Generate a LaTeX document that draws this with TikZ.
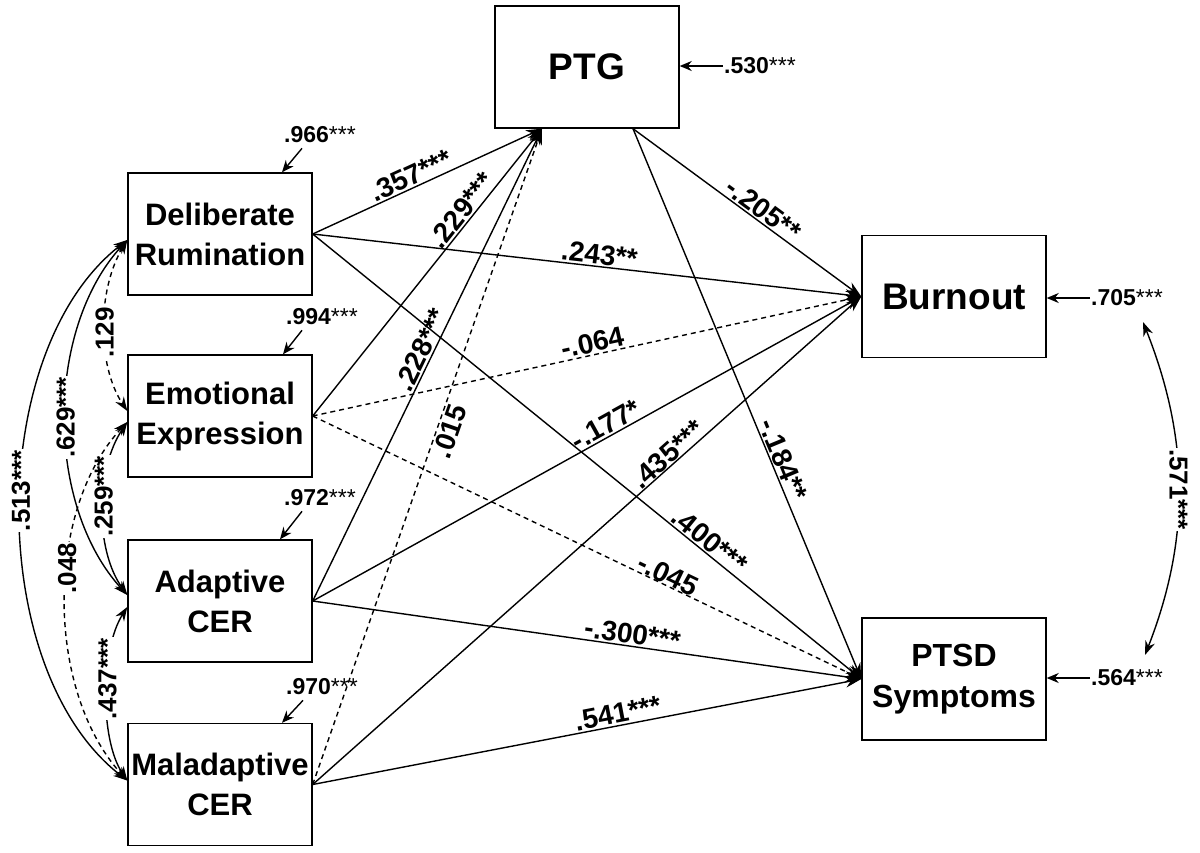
\documentclass[tikz,border=0pt]{standalone}
\usepackage{fontspec}
\setmainfont{Liberation Sans}
\usetikzlibrary{arrows.meta}
\newcommand\nst[1]{{\mdseries #1}}
\begin{document}
\begin{tikzpicture}[x=1pt,y=-1pt,
  box/.style={draw, line width=1.4pt, minimum width=184pt, minimum height=122pt, inner sep=0pt, align=center, font=\fontsize{31}{40}\selectfont\bfseries},
  bigbox/.style={box, font=\fontsize{37}{44}\selectfont\bfseries},
  pth/.style={line width=1.4pt, -{Stealth[length=16pt,width=11pt]}},
  dpth/.style={pth, dash pattern=on 5pt off 4pt},
  lab/.style={sloped, above, inner sep=1.5pt, font=\fontsize{28}{28}\selectfont\bfseries},
  labb/.style={sloped, below, inner sep=2pt, font=\fontsize{28}{28}\selectfont\bfseries},
  res/.style={inner sep=1pt, font=\fontsize{23}{23}\selectfont\bfseries},
  rarr/.style={line width=1.4pt, -{Stealth[length=12pt,width=10pt]}},
  cov/.style={line width=1.4pt, {Stealth[length=14pt,width=10pt]}-{Stealth[length=14pt,width=10pt]}},
  dcov/.style={cov, dash pattern=on 5pt off 4pt},
  covlab/.style={fill=white, rotate=90, inner sep=1pt, font=\fontsize{26}{26}\selectfont\bfseries}
]
\fill[white] (0,0) rectangle (1200,852);
\useasboundingbox (0,0) rectangle (1200,852);

% boxes
\node[box] (DR) at (220,234) {Deliberate\\Rumination};
\node[box] (EE) at (220,416) {Emotional\\Expression};
\node[box] (AC) at (220,601) {Adaptive\\CER};
\node[box] (MC) at (220,784.5) {Maladaptive\\CER};
\node[bigbox] (PTG) at (587,67) {PTG};
\node[bigbox] (BO) at (954,296.5) {Burnout};
\node[box, font=\fontsize{32}{41}\selectfont\bfseries] (PS) at (954,679) {PTSD\\Symptoms};

\coordinate (ptgin) at ([xshift=-45pt]PTG.south);
\coordinate (ptgout) at ([xshift=46pt]PTG.south);

% paths to PTG
\draw[pth] (DR.east) -- node[lab, pos=0.45] {.357***} (ptgin);
\draw[pth] (EE.east) -- node[lab, pos=0.69] {.229***} (ptgin);
\draw[pth] (AC.east) -- node[lab, pos=0.52] {.228***} (ptgin);
\draw[dpth] (MC.east) -- node[labb, pos=0.545] {.015} (ptgin);

% paths to Burnout
\draw[pth] (DR.east) -- node[lab, pos=0.52] {.243**} (BO.west);
\draw[dpth] (EE.east) -- node[lab, pos=0.515] {-.064} (BO.west);
\draw[pth] (AC.east) -- node[lab, pos=0.545] {-.177*} (BO.west);
\draw[pth] (MC.east) -- node[lab, pos=0.66, inner sep=0pt] {.435***} (BO.west);
\draw[pth] (ptgout) -- node[lab, pos=0.54] {-.205**} (BO.west);

% paths to PTSD
\draw[pth] (DR.east) -- node[lab, pos=0.71] {.400***} (PS.west);
\draw[dpth] (EE.east) -- node[lab, pos=0.64, inner sep=0pt] {-.045} (PS.west);
\draw[pth] (AC.east) -- node[lab, pos=0.58] {-.300***} (PS.west);
\draw[pth] (MC.east) -- node[lab, pos=0.56] {.541***} (PS.west);
\draw[pth] (ptgout) -- node[lab, pos=0.61] {-.184**} (PS.west);

% residuals
\node[res] (rDR) at (320,135) {.966\nst{***}};
\node[res] (rEE) at (322,317) {.994\nst{***}};
\node[res] (rAC) at (320,498) {.972\nst{***}};
\node[res] (rMC) at (322,687) {.970\nst{***}};
\node[res] (rPTG) at (760,66) {.530\nst{***}};
\node[res] (rBO) at (1127,298) {.705\nst{***}};
\node[res] (rPS) at (1127,678) {.564\nst{***}};

\draw[rarr] ([shift={(-18pt,-4pt)}]rDR.south) -- ([xshift=62pt]DR.north);
\draw[rarr] ([shift={(-20pt,-4pt)}]rEE.south) -- ([xshift=63pt]EE.north);
\draw[rarr] ([shift={(-18pt,-4pt)}]rAC.south) -- ([xshift=60pt]AC.north);
\draw[rarr] ([shift={(-19pt,-4pt)}]rMC.south) -- ([xshift=62pt]MC.north);
\draw[rarr] (rPTG.west) -- (rPTG.west -| PTG.east);
\draw[rarr] (rBO.west) -- (rBO.west -| BO.east);
\draw[rarr] (rPS.west) -- (rPS.west -| PS.east);

% covariance Burnout - PTSD
\coordinate (cb1) at (1143,322);
\coordinate (cb2) at (1145,655);
\draw[cov] (cb1) .. controls (1190,440) and (1190,540) .. node[pos=0.5, covlab, rotate=180] {.571***} (cb2);

% covariances among predictors
\coordinate (DRw) at ([yshift=-6pt]DR.west);
\coordinate (EEu) at ([yshift=5pt]EE.west);
\coordinate (EEl) at ([yshift=-6pt]EE.west);
\coordinate (ACu) at ([yshift=6pt]AC.west);
\coordinate (ACl) at ([yshift=-6pt]AC.west);
\coordinate (MCw) at ([yshift=4pt]MC.west);

\draw[cov] (DRw) .. controls (-15,350) and (-15,670) .. node[pos=0.47, covlab] {.513***} (MCw);
\draw[cov] (DRw) .. controls (45,330) and (45,505) .. node[pos=0.5, covlab] {.629***} (ACu);
\draw[dcov] (DRw) .. controls (97,290) and (97,365) .. node[pos=0.53, covlab] {.129} (EEu);
\draw[cov] (EEl) .. controls (95,470) and (95,550) .. node[pos=0.43, covlab] {.259***} (ACu);
\draw[dcov] (EEl) .. controls (45,510) and (45,690) .. node[pos=0.42, covlab] {.048} (MCw);
\draw[cov] (ACl) .. controls (100,650) and (100,740) .. node[pos=0.42, covlab] {.437***} (MCw);
\end{tikzpicture}
\end{document}
